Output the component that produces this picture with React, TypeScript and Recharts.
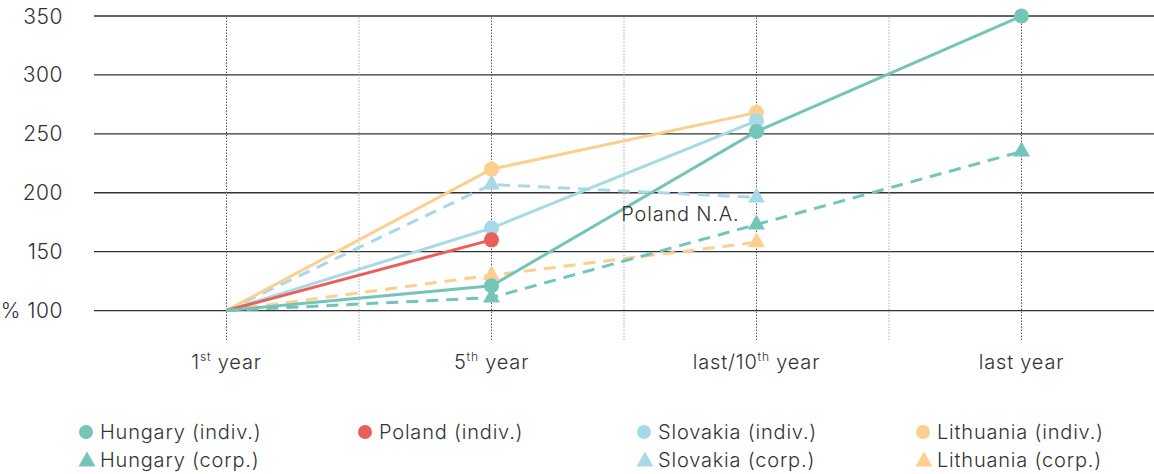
import { LineChart, Line, XAxis, YAxis, ReferenceLine, ReferenceDot, Legend } from 'recharts';

const categories = ['1st year', '5th year', 'last/10th year', 'last year'];
const hungaryIndiv = [100, 121, 252, 350];
const polandIndiv = [100, 160, null, null];
const slovakiaIndiv = [100, 170, 261, null];
const lithuaniaIndiv = [100, 220, 268, null];
const hungaryCorp = [100, 111, 173, 235];
const slovakiaCorp = [100, 207, 196, null];
const lithuaniaCorp = [100, 130, 158, null];
const yTicks = [100, 150, 200, 250, 300, 350];

const TEAL = '#74c5b9';
const RED = '#ea5f5c';
const BLUE = '#a7d9e8';
const ORANGE = '#fdcf8e';
const TEXT = '#333';
const FONT = 'Inter, "Open Sans", sans-serif';

type Series = {
  key: string;
  name: string;
  color: string;
  values: (number | null)[];
  marker: 'circle' | 'triangle';
};

// drawing order (later = on top)
const series: Series[] = [
  { key: 'ltCorp', name: 'Lithuania (corp.)', color: ORANGE, values: lithuaniaCorp, marker: 'triangle' },
  { key: 'skCorp', name: 'Slovakia (corp.)', color: BLUE, values: slovakiaCorp, marker: 'triangle' },
  { key: 'ltIndiv', name: 'Lithuania (indiv.)', color: ORANGE, values: lithuaniaIndiv, marker: 'circle' },
  { key: 'skIndiv', name: 'Slovakia (indiv.)', color: BLUE, values: slovakiaIndiv, marker: 'circle' },
  { key: 'plIndiv', name: 'Poland (indiv.)', color: RED, values: polandIndiv, marker: 'circle' },
  { key: 'huIndiv', name: 'Hungary (indiv.)', color: TEAL, values: hungaryIndiv, marker: 'circle' },
  { key: 'huCorp', name: 'Hungary (corp.)', color: TEAL, values: hungaryCorp, marker: 'triangle' },
];

const data = categories.map((c, i) => {
  const row: Record<string, any> = { x: i, name: c };
  series.forEach((s) => (row[s.key] = s.values[i]));
  return row;
});

const legendRows: (string | null)[][] = [
  ['huIndiv', 'plIndiv', 'skIndiv', 'ltIndiv'],
  ['huCorp', null, 'skCorp', 'ltCorp'],
];

const Triangle = ({ cx, cy, color, size = 17 }: { cx: number; cy: number; color: string; size?: number }) => {
  const h = size * 0.88;
  return (
    <path
      d={`M${cx},${cy - (h * 2) / 3} L${cx + size / 2},${cy + h / 3} L${cx - size / 2},${cy + h / 3} Z`}
      fill={color}
    />
  );
};

const makeDot = (s: Series) => (props: any) => {
  const { cx, cy, index, value } = props;
  if (index === 0 || value == null || cx == null || cy == null) return <g key={`${s.key}-${index}`} />;
  if (s.marker === 'circle') return <circle key={`${s.key}-${index}`} cx={cx} cy={cy} r={7.5} fill={s.color} />;
  return <Triangle key={`${s.key}-${index}`} cx={cx} cy={cy} color={s.color} />;
};

const XTick = ({ x, y, payload }: any) => {
  const label = categories[payload.value] ?? '';
  const m = label.match(/^(.*?\d+)(st|nd|rd|th)(.*)$/);
  return (
    <text
      x={x}
      y={y + 29}
      textAnchor="middle"
      fill={TEXT}
      fontSize={20}
      fontWeight={300}
      letterSpacing={0.8}
      fontFamily={FONT}
    >
      {m ? (
        <>
          <tspan>{m[1]}</tspan>
          <tspan dy={-8} fontSize={12}>{m[2]}</tspan>
          <tspan dy={8}>{m[3]}</tspan>
        </>
      ) : (
        label
      )}
    </text>
  );
};

const YTick = ({ y, payload }: any) => (
  <text
    x={63}
    y={y}
    dy={7.5}
    textAnchor="end"
    fill={TEXT}
    fontSize={21}
    fontWeight={300}
    letterSpacing={0.5}
    fontFamily={FONT}
  >
    {payload.value === 100 ? '% 100' : payload.value}
  </text>
);

const LegendGrid = () => (
  <div
    style={{
      position: 'relative',
      height: 60,
      fontFamily: FONT,
      fontSize: 20,
      fontWeight: 300,
      letterSpacing: 0.8,
      color: TEXT,
    }}
  >
    {legendRows.map((row, r) =>
      row.map((key, c) => {
        const s = series.find((d) => d.key === key);
        if (!s) return null;
        return (
          <div
            key={`${r}-${c}`}
            style={{
              position: 'absolute',
              left: 78 + c * 279,
              top: 4 + r * 28,
              height: 28,
              display: 'flex',
              alignItems: 'center',
              whiteSpace: 'nowrap',
            }}
          >
            <svg width={18} height={18} style={{ marginRight: 4 }}>
              {s.marker === 'circle' ? (
                <circle cx={8} cy={9} r={7} fill={s.color} />
              ) : (
                <Triangle cx={9} cy={10.5} color={s.color} size={17} />
              )}
            </svg>
            <span>{s.name}</span>
          </div>
        );
      })
    )}
  </div>
);

const separators = categories.slice(1).map((_, i) => i + 0.5);

export default function App() {
  return (
    <div style={{ position: 'absolute', left: 0, top: 0 }}>
      <LineChart width={1154} height={474} data={data} margin={{ top: 16, right: 0, bottom: 0, left: 0 }}>
        {yTicks.map((v) => (
          <ReferenceLine key={`h${v}`} y={v} stroke="#333" strokeWidth={1.3} />
        ))}
        {separators.map((v) => (
          <ReferenceLine key={`s${v}`} x={v} stroke="#aaa" strokeWidth={1} strokeDasharray="1.5 1.5" />
        ))}
        {categories.map((_, i) => (
          <ReferenceLine key={`c${i}`} x={i} stroke="#555" strokeWidth={1} strokeDasharray="1.5 1.5" />
        ))}
        <XAxis
          type="number"
          dataKey="x"
          domain={[-0.5, categories.length - 0.5]}
          ticks={categories.map((_, i) => i)}
          axisLine={false}
          tickLine={false}
          tickSize={0}
          tickMargin={0}
          height={74}
          tick={<XTick />}
          interval={0}
        />
        <YAxis
          type="number"
          domain={[75, 350]}
          ticks={yTicks}
          axisLine={false}
          tickLine={false}
          width={94}
          tick={<YTick />}
          interval={0}
        />
        {series.map((s) => (
          <Line
            key={s.key}
            dataKey={s.key}
            name={s.name}
            type="linear"
            stroke={s.color}
            strokeWidth={3}
            strokeDasharray={s.marker === 'triangle' ? '12 8' : undefined}
            dot={makeDot(s)}
            activeDot={false}
            isAnimationActive={false}
          />
        ))}
        <ReferenceDot
          x={2}
          y={182}
          r={0}
          fill="none"
          stroke="none"
          label={{
            value: 'Poland N.A.',
            position: 'left',
            offset: 17,
            fill: TEXT,
            fontSize: 20,
            fontWeight: 300,
            letterSpacing: 0.8,
            fontFamily: FONT,
          }}
        />
        <Legend verticalAlign="bottom" height={60} content={() => <LegendGrid />} />
      </LineChart>
    </div>
  );
}
